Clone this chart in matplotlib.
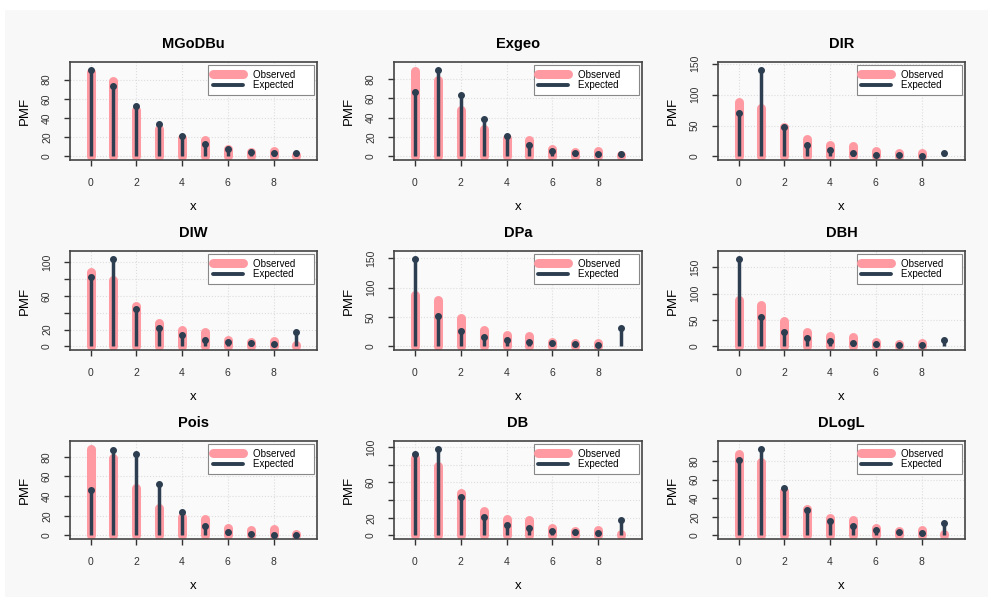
import numpy as np
import matplotlib.pyplot as plt
from matplotlib.patches import Rectangle

plt.rcParams["font.family"] = ["Liberation Sans", "DejaVu Sans"]

x = np.arange(10)

observed = [88, 79, 48, 28, 19, 17, 8, 5, 6, 1]

titles = ["MGoDBu", "Exgeo", "DIR", "DIW", "DPa", "DBH", "Pois", "DB", "DLogL"]

exp_mgodbu = [90, 73, 52, 34, 21, 13, 8, 5, 3, 4]
exp_exgeo = [66, 89, 63, 38, 21, 12, 6, 3, 2, 2]
exp_dir = [70, 140, 48, 19, 10, 5, 3, 2, 1, 5]
exp_diw = [82, 104, 45, 22, 13, 8, 5, 4, 3, 17]
exp_dpa = [149, 51, 26, 16, 10, 7, 5, 4, 3, 32]
exp_dbh = [166, 55, 27, 16, 10, 7, 5, 3, 3, 12]
exp_pois = [46, 87, 83, 52, 24, 10, 3, 1, 0, 0]
exp_db = [92, 98, 43, 21, 12, 8, 5, 4, 3, 17]
exp_dlogl = [81, 93, 51, 27, 16, 10, 6, 4, 3, 13]

expected = [exp_mgodbu, exp_exgeo, exp_dir, exp_diw, exp_dpa,
            exp_dbh, exp_pois, exp_db, exp_dlogl]

# y ticks and their labels (R drops labels that would overlap)
yticks = [
    ([0, 20, 40, 60, 80], ["0", "20", "40", "60", "80"]),
    ([0, 20, 40, 60, 80], ["0", "20", "40", "60", "80"]),
    ([0, 50, 100, 150], ["0", "50", "100", "150"]),
    ([0, 20, 40, 60, 80, 100], ["0", "20", "", "60", "", "100"]),
    ([0, 50, 100, 150], ["0", "50", "100", "150"]),
    ([0, 50, 100, 150], ["0", "50", "100", "150"]),
    ([0, 20, 40, 60, 80], ["0", "20", "40", "60", "80"]),
    ([0, 20, 40, 60, 80, 100], ["0", "20", "", "60", "", "100"]),
    ([0, 20, 40, 60, 80], ["0", "20", "40", "60", "80"]),
]

pink = "#FF9AA2"
dark = "#2C3E50"

W, H = 993, 597
fig = plt.figure(figsize=(W / 100, H / 100), dpi=100, facecolor="white")
fig.patches.append(Rectangle((5 / W, 0), 983 / W, 587 / H,
                             transform=fig.transFigure, facecolor="#f8f8f8",
                             edgecolor="none", zorder=-10))

cols = [(70, 317), (394, 642), (718, 965)]
rows = [(62, 160), (251, 350), (441, 539)]

for i in range(9):
    l, r = cols[i % 3]
    t, b = rows[i // 3]
    ax = fig.add_axes([l / W, 1 - b / H, (r - l) / W, (b - t) / H])
    ax.set_facecolor("#fafafa")

    exp = expected[i]
    M = max(max(observed), max(exp)) * 1.05
    ax.set_ylim(-0.04 * M, 1.04 * M)
    ax.set_xlim(-0.9, 9.9)

    ticks, labels = yticks[i]
    ax.set_yticks(ticks)
    ax.set_yticklabels(labels, rotation=90, va="center")
    ax.set_xticks([0, 2, 4, 6, 8])
    ax.grid(True, color="#dddddd", linestyle=":", linewidth=0.8)
    ax.set_axisbelow(True)

    ax.vlines(x, 0, observed, color=pink, linewidth=6.5, capstyle="round",
              zorder=2)
    ax.vlines(x, 0, exp, color=dark, linewidth=2.5, zorder=3)
    ax.plot(x, exp, "o", color=dark, markersize=4.0, zorder=4)

    ax.set_title(titles[i], fontsize=10.5, fontweight="bold", pad=10)
    ax.set_xlabel("x", fontsize=9.5, labelpad=9)
    ax.set_ylabel("PMF", fontsize=9.5, labelpad=8)
    ax.tick_params(labelsize=7.5, colors="#333333", length=4, width=1)
    ax.tick_params(axis="x", pad=9)
    ax.tick_params(axis="y", pad=9)
    for s in ax.spines.values():
        s.set_color("#444444")
        s.set_linewidth(1.2)

    h1, = ax.plot([], [], color=pink, linewidth=6.5, solid_capstyle="round")
    h2, = ax.plot([], [], color=dark, linewidth=2.8, solid_capstyle="round")
    leg = ax.legend([h1, h2], ["Observed     ", "Expected     "],
                    loc="upper right", fontsize=7, handlelength=3.0,
                    borderaxespad=0.3, fancybox=False, framealpha=1,
                    edgecolor="#888888", labelspacing=0.05, borderpad=0.5,
                    handletextpad=1.1)
    leg.get_frame().set_linewidth(0.8)

fig.savefig("out.png", dpi=100, facecolor="white")
